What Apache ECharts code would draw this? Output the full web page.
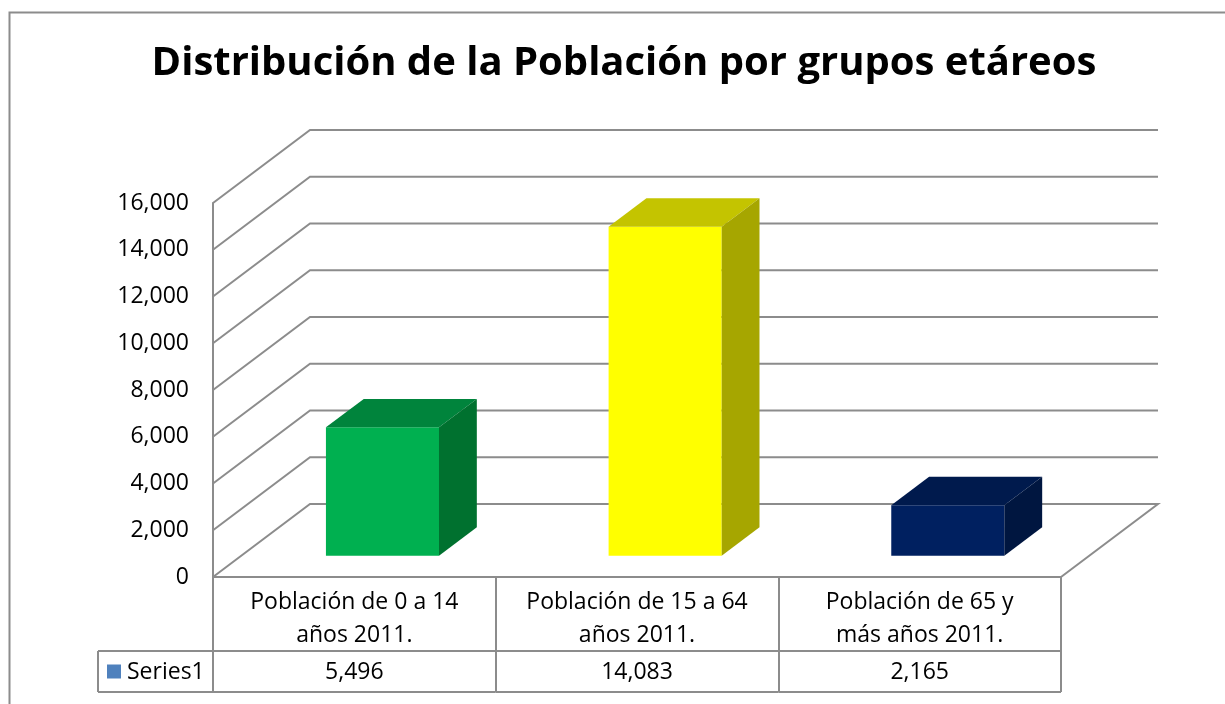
<!DOCTYPE html>
<html>
<head>
<meta charset="utf-8">
<script src="https://cdn.jsdelivr.net/npm/echarts@6/dist/echarts.min.js"></script>
<style>
  html, body { margin: 0; padding: 0; background: #fff; }
  #chart { width: 1225px; height: 704px; }
</style>
</head>
<body>
<div id="chart"></div>
<script>
var titleText = "Distribución de la Población por grupos etáreos";
var categories = [
  "Población de 0 a 14\naños 2011.",
  "Población de 15 a 64\naños 2011.",
  "Población de 65 y\nmás años 2011."
];
var values = [5496, 14083, 2165];
var seriesName = "Series1";
var yTicks = [0, 2000, 4000, 6000, 8000, 10000, 12000, 14000, 16000];

// colours per bar: front, top, side
var frontColors = ["#00b050", "#ffff00", "#002060"];
var topColors = ["#00843c", "#c4c400", "#001a4d"];
var sideColors = ["#00712f", "#a6a600", "#001640"];

var FONT = "Open Sans";
var LINE = "#8c8c8c";
// depth of the 3d floor in px, bar depth as fraction of it
var DX = 97, DY = 73;
var BAR_FRONT = 0.29, BAR_BACK = 0.68, BAR_W = 0.4;

var chart = echarts.init(document.getElementById("chart"));

function fmt(v) {
  return Number(v).toLocaleString("en-US");
}

// back wall grid lines + left wall diagonals
function wallItem(params, api) {
  var cs = params.coordSys;
  var v = api.value(1);
  var y = api.coord([0, v])[1];
  var x0 = cs.x, x1 = cs.x + cs.width;
  var pts = [[x0, y], [x0 + DX, y - DY], [x1 + DX, y - DY]];
  if (v === 0) pts.push([x1, y]);
  return {
    type: "polyline",
    silent: true,
    shape: { points: pts },
    style: { stroke: LINE, lineWidth: 2, fill: null }
  };
}

function barItem(params, api) {
  var i = api.value(0);
  var base = api.coord([i, 0]);
  var top = api.coord([i, api.value(1)]);
  var w = api.size([1, 0])[0] * BAR_W;
  var l = base[0] - w / 2, r = base[0] + w / 2;
  var fx = BAR_FRONT * DX, fy = BAR_FRONT * DY;
  var bx = BAR_BACK * DX, by = BAR_BACK * DY;
  var y0 = base[1], y1 = top[1];
  return {
    type: "group",
    children: [
      {
        type: "polygon",
        shape: { points: [[l + fx, y0 - fy], [r + fx, y0 - fy], [r + fx, y1 - fy], [l + fx, y1 - fy]] },
        style: { fill: frontColors[i] }
      },
      {
        type: "polygon",
        shape: { points: [[l + fx, y1 - fy], [r + fx, y1 - fy], [r + bx, y1 - by], [l + bx, y1 - by]] },
        style: { fill: topColors[i] }
      },
      {
        type: "polygon",
        shape: { points: [[r + fx, y1 - fy], [r + bx, y1 - by], [r + bx, y0 - by], [r + fx, y0 - fy]] },
        style: { fill: sideColors[i] }
      }
    ]
  };
}

// data table row under the axis
function tableItem(params, api) {
  var cs = params.coordSys;
  var i = api.value(0);
  var cx = api.coord([i, 0])[0];
  var half = api.size([1, 0])[0] / 2;
  var yb = cs.y + cs.height;
  var rowTop = yb + 74, rowBot = yb + 115, mid = (rowTop + rowBot) / 2;
  var ls = { stroke: LINE, lineWidth: 2 };
  var children = [
    { type: "line", shape: { x1: cx - half, y1: rowTop, x2: cx + half, y2: rowTop }, style: ls },
    { type: "line", shape: { x1: cx - half, y1: rowBot, x2: cx + half, y2: rowBot }, style: ls },
    {
      type: "text",
      style: {
        text: fmt(api.value(1)), x: cx, y: mid + 1, align: "center", verticalAlign: "middle",
        fontSize: 23, fontFamily: FONT, fill: "#000"
      }
    }
  ];
  if (i === 0) {
    var left = cs.x - 115;
    children.push(
      { type: "line", shape: { x1: left, y1: rowTop, x2: cs.x, y2: rowTop }, style: ls },
      { type: "line", shape: { x1: left, y1: rowBot, x2: cs.x, y2: rowBot }, style: ls },
      { type: "line", shape: { x1: left, y1: rowTop, x2: left, y2: rowBot }, style: ls },
      { type: "rect", shape: { x: left + 9, y: mid - 7, width: 14, height: 14 }, style: { fill: "#4f81bd" } },
      {
        type: "text",
        style: {
          text: seriesName, x: left + 29, y: mid + 1, align: "left", verticalAlign: "middle",
          fontSize: 23, fontFamily: FONT, fill: "#000"
        }
      }
    );
  }
  return { type: "group", children: children };
}

var option = {
  animation: false,
  backgroundColor: "#fff",
  title: {
    text: titleText,
    left: 619,
    top: 39,
    textAlign: "center",
    textStyle: { fontFamily: FONT, fontSize: 40, fontWeight: "bold", color: "#000" }
  },
  graphic: [
    {
      type: "rect",
      left: 7,
      top: 10,
      silent: true,
      shape: { width: 1240, height: 720 },
      style: { fill: null, stroke: LINE, lineWidth: 2 }
    }
  ],
  grid: { left: 213, right: 164, top: 203, bottom: 127 },
  xAxis: {
    type: "category",
    data: categories,
    axisLine: { show: true, lineStyle: { color: LINE, width: 2 } },
    axisTick: { show: true, interval: 0, length: 115, lineStyle: { color: LINE, width: 2 } },
    axisLabel: {
      interval: 0, margin: 9, lineHeight: 33,
      fontFamily: FONT, fontSize: 23, color: "#000"
    },
    splitLine: { show: false }
  },
  yAxis: {
    type: "value",
    min: 0,
    max: 16000,
    interval: 2000,
    axisLine: { show: true, lineStyle: { color: LINE, width: 2 } },
    axisTick: { show: false },
    splitLine: { show: false },
    axisLabel: {
      margin: 24, padding: [4, 0, 0, 0], fontFamily: FONT, fontSize: 23, color: "#000",
      formatter: function (v) { return fmt(v); }
    }
  },
  series: [
    {
      name: "walls",
      type: "custom",
      z: 1,
      silent: true,
      clip: false,
      renderItem: wallItem,
      data: yTicks.map(function (v) { return [0, v]; })
    },
    {
      name: seriesName,
      type: "custom",
      z: 3,
      clip: false,
      renderItem: barItem,
      data: values.map(function (v, i) { return [i, v]; })
    },
    {
      name: "table",
      type: "custom",
      z: 3,
      silent: true,
      clip: false,
      renderItem: tableItem,
      data: values.map(function (v, i) { return [i, v]; })
    }
  ]
};

option && chart.setOption(option);
</script>
</body>
</html>
